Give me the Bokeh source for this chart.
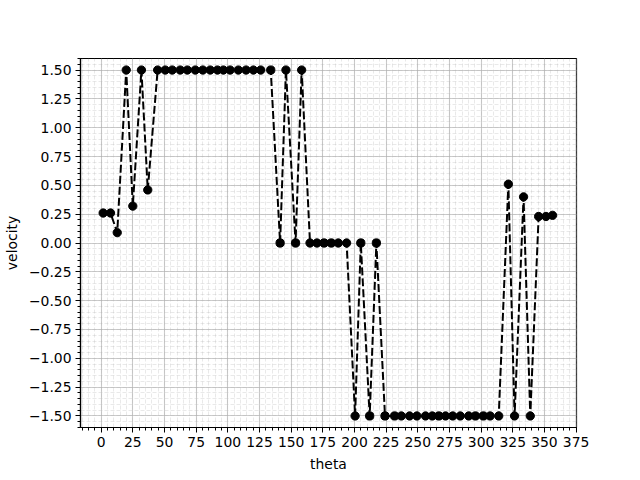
from bokeh.plotting import figure
from bokeh.models import Range1d, FixedTicker, ColumnDataSource
from bokeh.embed import file_html
from bokeh.resources import INLINE

# data
theta = [1.6, 7.4, 12.7, 19.8, 25.0, 31.8, 36.8,
         44.6, 50.6, 56.1, 62.4, 68.0, 74.3, 80.3, 86.1, 91.8, 96.5, 101.8, 108.3, 114.4, 120.2, 126.0, 133.9,
         141.3, 145.9, 153.5, 158.3,
         164.9, 170.4, 176.0, 181.7, 187.2, 193.8,
         200.5, 205.0, 212.0, 217.3,
         224.1, 231.7, 237.0, 243.5, 249.3, 256.1, 261.4, 266.6, 271.9, 277.6, 283.5, 290.2, 295.5, 301.8, 307.1, 313.9,
         321.5, 326.4, 333.5, 338.8, 345.4, 351.2, 356.4]
velocity = [0.26, 0.26, 0.09, 1.5, 0.32, 1.5, 0.46,
            1.5, 1.5, 1.5, 1.5, 1.5, 1.5, 1.5, 1.5, 1.5, 1.5, 1.5, 1.5, 1.5, 1.5, 1.5, 1.5,
            0.0, 1.5, 0.0, 1.5,
            0.0, 0.0, 0.0, 0.0, 0.0, 0.0,
            -1.5, 0.0, -1.5, 0.0,
            -1.5, -1.5, -1.5, -1.5, -1.5, -1.5, -1.5, -1.5, -1.5, -1.5, -1.5, -1.5, -1.5, -1.5, -1.5, -1.5,
            0.51, -1.5, 0.40, -1.5, 0.23, 0.23, 0.24]

x_major = list(range(0, 376, 25))
x_minor = list(range(-15, 376, 5))
y_major = [i * 0.25 for i in range(-6, 7)]
y_minor = [round(i * 0.05, 2) for i in range(-32, 33)]

p = figure(width=640, height=480, output_backend="svg", toolbar_location=None,
           x_range=Range1d(-16.3, 375.3),
           y_range=Range1d(-1.6, 1.6),
           min_border_left=80, min_border_right=64, min_border_top=58, min_border_bottom=53)
p.background_fill_color = "white"
p.border_fill_color = "white"
p.outline_line_color = "black"
p.outline_line_width = 1.2

p.xaxis.ticker = FixedTicker(ticks=x_major, minor_ticks=x_minor)
p.yaxis.ticker = FixedTicker(ticks=y_major, minor_ticks=y_minor)
p.yaxis.major_label_overrides = {v: ("%.2f" % v).replace("-", "\u2212") for v in y_major}

for ax in (p.xaxis, p.yaxis):
    ax.axis_line_color = "black"
    ax.axis_line_width = 1.2
    ax.major_tick_in = 0
    ax.major_tick_out = 5
    ax.minor_tick_in = 0
    ax.minor_tick_out = 3
    ax.major_tick_line_color = "black"
    ax.minor_tick_line_color = "black"
    ax.major_label_text_font = "DejaVu Sans"
    ax.major_label_text_font_size = "13.9px"
    ax.major_label_text_color = "black"
    ax.major_label_standoff = 4
    ax.axis_label_text_font = "DejaVu Sans"
    ax.axis_label_text_font_size = "13.9px"
    ax.axis_label_text_font_style = "normal"
    ax.axis_label_text_color = "black"
    ax.axis_label_standoff = 6

p.xaxis.axis_label = "theta"
p.yaxis.axis_label = "velocity"

for g in (p.xgrid, p.ygrid):
    g.grid_line_color = "#b0b0b0"
    g.grid_line_alpha = 0.65
    g.grid_line_width = 1.1
    g.minor_grid_line_color = "#b0b0b0"
    g.minor_grid_line_alpha = 0.35
    g.minor_grid_line_width = 0.8
    g.minor_grid_line_dash = "4 2"

src = ColumnDataSource(dict(theta=theta, velocity=velocity))
p.line("theta", "velocity", source=src, line_color="black", line_width=2, line_dash="8 3")
p.scatter("theta", "velocity", source=src, size=8.3, fill_color="black", line_color="black")

open("out.html", "w").write(file_html(p, INLINE))
